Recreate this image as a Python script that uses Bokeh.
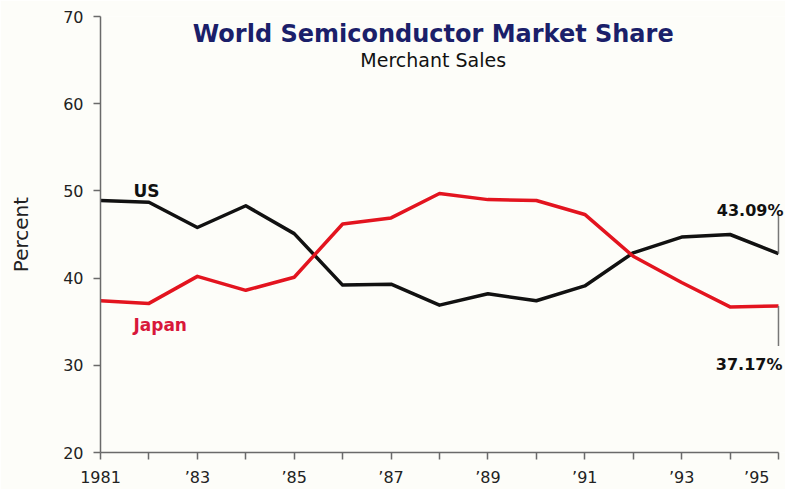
from bokeh.plotting import figure
from bokeh.models import Range1d, FixedTicker, Label
from bokeh.embed import file_html
from bokeh.resources import INLINE

# ---- data ----
years = [1981, 1982, 1983, 1984, 1985, 1986, 1987, 1988, 1989, 1990, 1991, 1992, 1993, 1994, 1995]
us = [48.9, 48.7, 45.8, 48.3, 45.1, 39.2, 39.3, 36.9, 38.2, 37.4, 39.1, 42.9, 44.7, 45.0, 42.8]
japan = [37.4, 37.1, 40.2, 38.6, 40.1, 46.2, 46.9, 49.7, 49.0, 48.9, 47.3, 42.5, 39.5, 36.7, 36.8]
y_ticks = [20, 30, 40, 50, 60, 70]
x_tick_labels = {1981: "1981", 1983: "\u201983", 1985: "\u201985", 1987: "\u201987",
                 1989: "\u201989", 1991: "\u201991", 1993: "\u201993", 1995: "\u201995\u2003"}
title_text = "World Semiconductor Market Share"
subtitle_text = "Merchant Sales"
y_label = "Percent"
us_end_label = "43.09%"
japan_end_label = "37.17%"

FONT = "DejaVu Sans"
BG = "#fdfdf9"

p = figure(width=785, height=489, output_backend="svg", toolbar_location=None,
           x_range=Range1d(1981, 1995.145), y_range=Range1d(20, 70),
           min_border_left=100, min_border_right=0, min_border_top=16, min_border_bottom=37)
p.background_fill_color = BG
p.border_fill_color = BG
p.outline_line_color = None
p.grid.visible = False

# axes
for ax in (p.xaxis[0], p.yaxis[0]):
    ax.axis_line_color = "#6a6a6a"
    ax.axis_line_width = 1.5
    ax.major_tick_line_color = "#6a6a6a"
    ax.major_tick_line_width = 1.5
    ax.major_tick_in = 0
    ax.major_tick_out = 7
    ax.minor_tick_line_color = None
    ax.major_label_text_font = FONT
    ax.major_label_text_font_size = "16px"
    ax.major_label_text_color = "#222222"

p.xaxis.ticker = FixedTicker(ticks=years)
p.xaxis.major_label_overrides = {y: x_tick_labels.get(y, "") for y in years}
p.xaxis.bounds = (years[0], years[-1])
p.xaxis.major_label_standoff = 8
p.yaxis.ticker = FixedTicker(ticks=y_ticks)
p.yaxis.major_label_standoff = 10
p.yaxis.axis_label = y_label
p.yaxis.axis_label_text_font = FONT
p.yaxis.axis_label_text_font_size = "20px"
p.yaxis.axis_label_text_font_style = "normal"
p.yaxis.axis_label_text_color = "#222222"
p.yaxis.axis_label_standoff = 27

# series
p.line(years, us, line_color="#111111", line_width=3.5, line_join="round")
p.line(years, japan, line_color="#e3141f", line_width=3.5, line_join="round")

# leader lines from end values to labels
p.segment(x0=[years[-1], years[-1]], y0=[us[-1], japan[-1]],
          x1=[years[-1], years[-1]], y1=[47.3, 32.2],
          line_color="#777777", line_width=1.5)

def add_label(text, x, y, size, color, bold=False, align="left", xo=0):
    p.add_layout(Label(x=x, y=y, text=text, text_font=FONT, text_font_size=size,
                       text_color=color, text_font_style="bold" if bold else "normal",
                       text_align=align, text_baseline="alphabetic", x_offset=xo))

add_label(title_text, 1987.87, 68.05, "24px", "#1b1f6a", bold=True, align="center")
add_label(subtitle_text, 1987.87, 65.0, "19px", "#111111", align="center")
add_label("US", 1981.68, 50.0, "17px", "#111111", bold=True)
add_label("Japan", 1981.68, 34.6, "17px", "#d8173a", bold=True)
add_label(us_end_label, years[-1], 47.8, "16px", "#111111", bold=True, align="right", xo=5)
add_label(japan_end_label, years[-1], 30.1, "16px", "#111111", bold=True, align="right", xo=4)

open("out.html", "w").write(file_html(p, INLINE))
